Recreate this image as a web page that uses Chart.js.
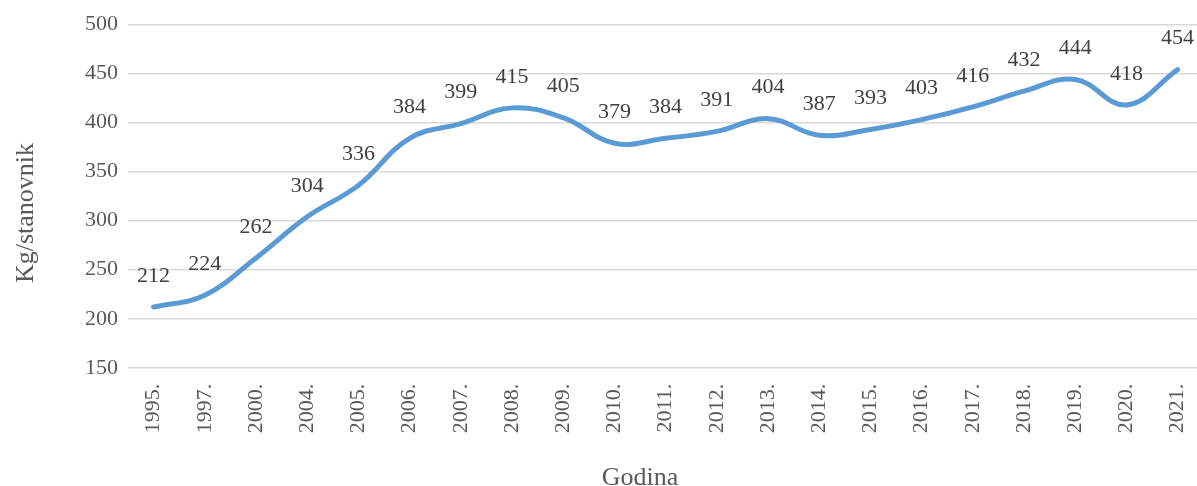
<!DOCTYPE html>
<html>
<head>
<meta charset="utf-8">
<script src="https://cdn.jsdelivr.net/npm/chart.js@4"></script>
<style>
  html, body { margin: 0; padding: 0; overflow: hidden; background: #fff; }
  #wrap { position: absolute; left: 0; top: 0; width: 1220px; height: 486px; }
</style>
</head>
<body>
<div id="wrap"><canvas id="otpad"></canvas></div>
<script>
var godine = ['1995.', '1997.', '2000.', '2004.', '2005.', '2006.', '2007.', '2008.', '2009.', '2010.',
              '2011.', '2012.', '2013.', '2014.', '2015.', '2016.', '2017.', '2018.', '2019.', '2020.', '2021.'];
var kgPoStanovniku = [212, 224, 262, 304, 336, 384, 399, 415, 405, 379,
                      384, 391, 404, 387, 393, 403, 416, 432, 444, 418, 454];
var yMin = 150, yMax = 500, yStep = 50;
var xNaslov = 'Godina';
var yNaslov = 'Kg/stanovnik';

var font = 'Liberation Serif, Times New Roman, serif';
var siva = '#595959';

// vrijednosti iznad tocaka + naslovi osi
var oznake = {
    id: 'oznake',
    afterDatasetsDraw: function(chart) {
        var c = chart.ctx;
        var meta = chart.getDatasetMeta(0);
        c.save();
        c.font = '22px ' + font;
        c.fillStyle = '#404040';
        c.textAlign = 'center';
        c.textBaseline = 'middle';
        meta.data.forEach(function(p, i) {
            c.fillText(kgPoStanovniku[i], p.x, p.y - 31);
        });
        c.font = '26px ' + font;
        c.fillStyle = siva;
        c.textBaseline = 'alphabetic';
        c.fillText(xNaslov, 640, 485);
        c.translate(33, 213);
        c.rotate(-Math.PI / 2);
        c.fillText(yNaslov, 0, 0);
        c.restore();
    }
};

var ctx = document.getElementById('otpad');
var myChart = new Chart(ctx, {
    type: 'line',
    data: {
        labels: godine,
        datasets: [{
            label: 'Kg/stanovnik',
            data: kgPoStanovniku,
            borderColor: '#5B9BD5',
            borderWidth: 5,
            borderCapStyle: 'round',
            pointRadius: 0,
            tension: 0.4,
            fill: false
        }]
    },
    options: {
        responsive: true,
        maintainAspectRatio: false,
        animation: false,
        layout: { padding: { top: 24.5, right: 0, left: 75, bottom: 36.7 } },
        plugins: {
            legend: { display: false },
            tooltip: { enabled: false }
        },
        scales: {
            x: {
                offset: true,
                grid: { display: false, drawTicks: false },
                border: { display: false },
                ticks: {
                    color: siva,
                    font: { family: font, size: 22 },
                    minRotation: 90,
                    maxRotation: 90,
                    padding: 16,
                    autoSkip: false
                }
            },
            y: {
                min: yMin,
                max: yMax,
                grid: { color: '#d9d9d9', lineWidth: 1.5, drawTicks: false },
                border: { display: false },
                ticks: {
                    stepSize: yStep,
                    color: siva,
                    font: { family: font, size: 22 },
                    padding: 10
                }
            }
        }
    },
    plugins: [oznake]
});
</script>
</body>
</html>
